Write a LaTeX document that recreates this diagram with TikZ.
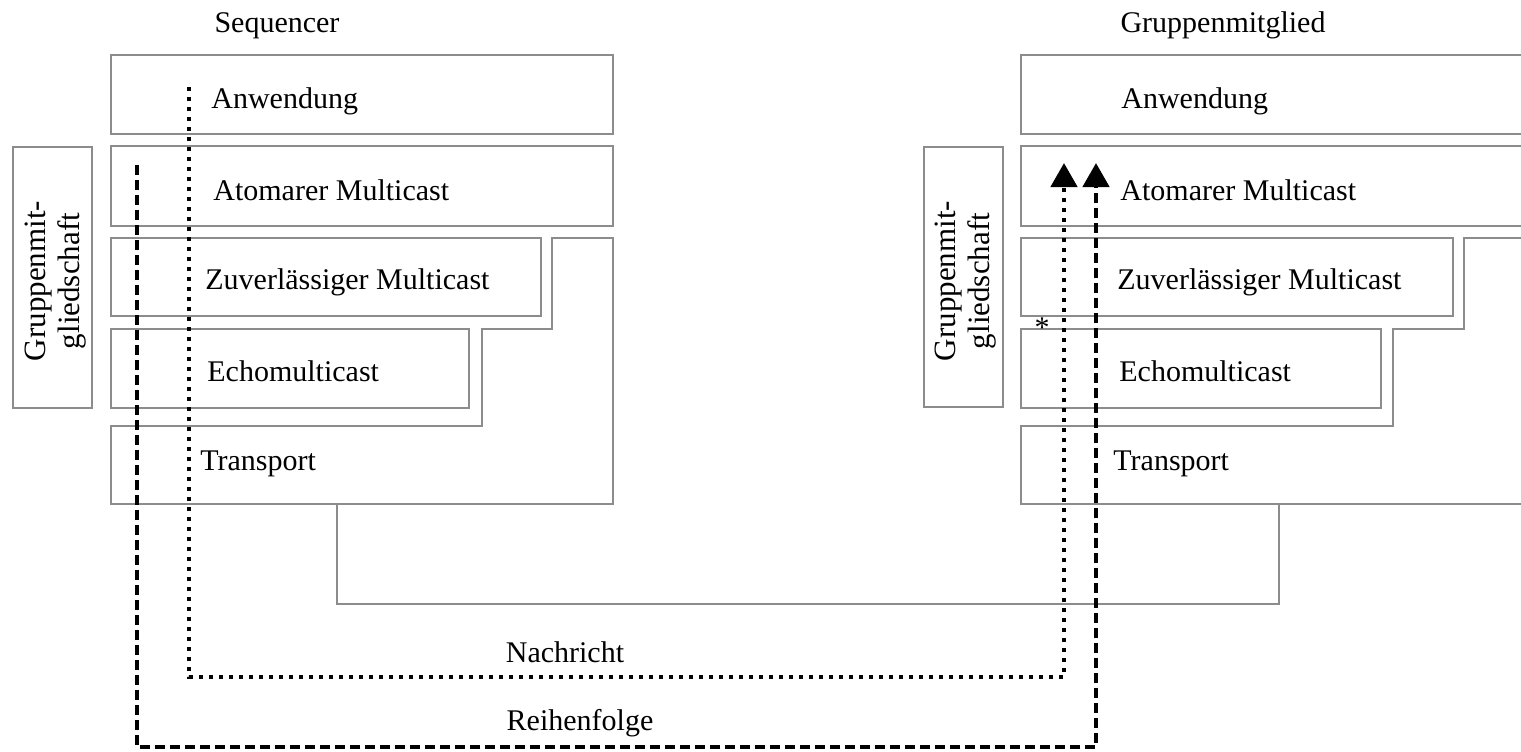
\documentclass[tikz,border=0pt]{standalone}
\usepackage{fontspec}
\setmainfont{Liberation Serif}
\usetikzlibrary{arrows.meta}
\begin{document}
\begin{tikzpicture}[x=0.5pt,y=-0.5pt,
  layer/.style={draw=black!45, line width=0.65pt},
  lbl/.style={inner sep=0pt, anchor=base west, font=\fontsize{15}{18}\selectfont},
  ttl/.style={inner sep=0pt, anchor=base, font=\fontsize{15}{18}\selectfont},
  gm/.style={inner sep=0pt, rotate=90, align=center, font=\fontsize{15.5}{17}\selectfont},
  msgline/.style={line width=2.3pt, dash pattern=on 2.2pt off 2.8pt},
  ordline/.style={line width=2.3pt, dash pattern=on 5pt off 2.5pt},
  tip/.style={-{Triangle[width=13pt,length=12pt]}}]
\useasboundingbox (0,0) rectangle (1521,751);
\clip (0,0) rectangle (1521,751);

% ---- Sequencer protocol stack ----
\draw[layer] (111,55) rectangle (613,134);
\draw[layer] (111,146) rectangle (613,226);
\draw[layer] (111,238) rectangle (541,316);
\draw[layer] (111,329) rectangle (469,408);
\draw[layer] (111,426) -- (482,426) -- (482,329) -- (552,329) -- (552,238)
  -- (613,238) -- (613,504) -- (111,504) -- cycle;
\draw[layer] (13,147) rectangle (92,408);

\node[ttl] (seq) at (277,32) {Sequencer};
\node[lbl] (sA) at (211,108) {Anwendung};
\node[lbl] (sM) at (213,200) {Atomarer Multicast};
\node[lbl] (sZ) at (205,289) {Zuverlässiger Multicast};
\node[lbl] (sE) at (207,381) {Echomulticast};
\node[lbl] (sT) at (200,470) {Transport};
\node[gm] (sG) at (56,281) {Gruppenmit-\\gliedschaft};

% ---- group member protocol stack ----
\draw[layer] (1021,55) rectangle (1535,134);
\draw[layer] (1021,146) rectangle (1535,226);
\draw[layer] (1021,238) rectangle (1453,316);
\draw[layer] (1021,329) rectangle (1381,408);
\draw[layer] (1535,504) -- (1021,504) -- (1021,426) -- (1393,426) -- (1393,329)
  -- (1464,329) -- (1464,238) -- (1535,238);
\draw[layer] (924,147) rectangle (1003,407);

\node[ttl] (mem) at (1223,32) {Gruppenmitglied};
\node[lbl] (mA) at (1121,108) {Anwendung};
\node[lbl] (mM) at (1120,200) {Atomarer Multicast};
\node[lbl] (mZ) at (1117,289) {Zuverlässiger Multicast};
\node[lbl] (mE) at (1119,381) {Echomulticast};
\node[lbl] (mT) at (1113,470) {Transport};
\node[gm] (mG) at (966,281) {Gruppenmit-\\gliedschaft};
\node[inner sep=0pt, font=\fontsize{15}{18}\selectfont] (star) at (1042,328) {*};

% ---- network link between the transport layers ----
\coordinate (netA) at (337,504);
\coordinate (netB) at (1279,504);
\draw[layer] (netA) -- (337,604) -- (1279,604) -- (netB);

% ---- message and ordering paths ----
\coordinate (msgS) at (189,87);
\coordinate (msgE) at (1064,163);
\coordinate (ordS) at (137,165);
\coordinate (ordE) at (1096,163);
\draw[msgline, tip] (msgS) |- (1064,677) -- (msgE);
\draw[ordline, tip] (ordS) |- (1096,747) -- (ordE);

\node[ttl] (nach) at (565,662) {Nachricht};
\node[ttl] (reih) at (580,730) {Reihenfolge};
\end{tikzpicture}
\end{document}
